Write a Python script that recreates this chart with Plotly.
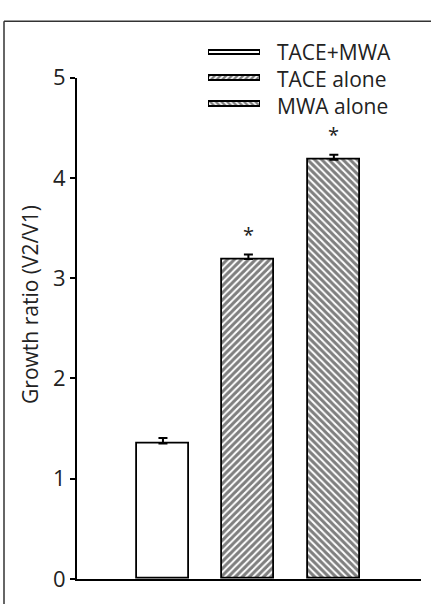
import plotly.graph_objects as go

groups = ["TACE+MWA", "TACE alone", "MWA alone"]
growth_ratio = [1.35, 3.19, 4.18]
sem = [0.055, 0.045, 0.05]
significance = ["", "*", "*"]
patterns = ["", "/", "\\"]
y_ticks = [0, 1, 2, 3, 4, 5]
y_title = "Growth ratio (V2/V1)"

FONT = "Open Sans"
W, H = 431, 604
ML, MR, MT, MB = 77, 10, 10, 25
PW, PH = W - ML - MR, H - MT - MB


def px_x(p):
    return (p - ML) / PW


def px_y(p):
    return (H - MB - p) / PH


xpos = list(range(len(groups)))

fig = go.Figure()

fig.add_trace(go.Bar(
    x=xpos, y=growth_ratio, width=0.61,
    marker=dict(color="white", line=dict(color="black", width=1.8),
                pattern=dict(shape=patterns, fgcolor="black", bgcolor="white",
                             size=5, solidity=0.6, fillmode="overlay")),
    error_y=dict(type="data", array=sem, arrayminus=[0] * len(sem), visible=True,
                 color="black", thickness=2, width=4.5),
    showlegend=False, xaxis="x", yaxis="y",
))

# legend swatches drawn as small horizontal bars
fig.add_trace(go.Bar(
    y=groups, x=[1] * len(groups), orientation="h", width=0.19,
    marker=dict(color="white", line=dict(color="black", width=2),
                pattern=dict(shape=patterns, fgcolor="black", bgcolor="white",
                             size=4, solidity=0.6, fillmode="overlay")),
    showlegend=False, xaxis="x2", yaxis="y2", hoverinfo="skip",
))

annotations = []
for i, (g, v, e, s) in enumerate(zip(groups, growth_ratio, sem, significance)):
    if s:
        annotations.append(dict(x=i, y=v + e, xref="x", yref="y", text=s, showarrow=False,
                                yanchor="bottom", yshift=5,
                                font=dict(family=FONT, size=20, color="#222")))
    annotations.append(dict(x=px_x(275), y=g, xref="paper", yref="y2", text=g, showarrow=False,
                            xanchor="left", yanchor="middle", yshift=-1.5 * i,
                            font=dict(family=FONT, size=21, color="#222")))

annotations.append(dict(x=px_x(30), y=px_y(297), xref="paper", yref="paper", text=y_title,
                        textangle=-90, showarrow=False, xanchor="center", yanchor="middle",
                        font=dict(family=FONT, size=21, color="#222")))

row0, rowstep = 36.7, 26.3
leg_top, leg_bot = 10, 105

fig.update_layout(
    width=W, height=H,
    margin=dict(l=ML, r=MR, t=MT, b=MB),
    paper_bgcolor="white", plot_bgcolor="white",
    bargap=0,
    xaxis=dict(domain=[0, 1], range=[-1.006, 3.02], showline=True, linecolor="black",
               linewidth=2, showticklabels=False, ticks="", showgrid=False, zeroline=False,
               fixedrange=True),
    yaxis=dict(domain=[0, px_y(63)], range=[0, 5], tickvals=y_ticks, showline=True,
               linecolor="black", linewidth=2, ticks="outside", ticklen=5, tickwidth=1.5,
               tickcolor="black", showgrid=False, zeroline=False,
               tickfont=dict(family=FONT, size=22, color="#222")),
    xaxis2=dict(domain=[px_x(208), px_x(260)], range=[0, 1], anchor="y2", visible=False),
    yaxis2=dict(domain=[px_y(leg_bot), px_y(leg_top)], anchor="x2", type="category",
                categoryorder="array", categoryarray=groups,
                range=[(leg_bot - row0) / rowstep, (leg_top - row0) / rowstep],
                visible=False),
    annotations=annotations,
    shapes=[
        dict(type="line", xref="paper", yref="paper", x0=px_x(4), x1=px_x(4),
             y0=px_y(5), y1=px_y(H + 5), line=dict(color="#333", width=1.5)),
        dict(type="line", xref="paper", yref="paper", x0=px_x(4), x1=px_x(W + 5),
             y0=px_y(5), y1=px_y(5), line=dict(color="#333", width=1.5)),
    ],
)

fig.write_html("out.html", config={"displayModeBar": False},
               post_script="document.body.style.margin='0px';")
